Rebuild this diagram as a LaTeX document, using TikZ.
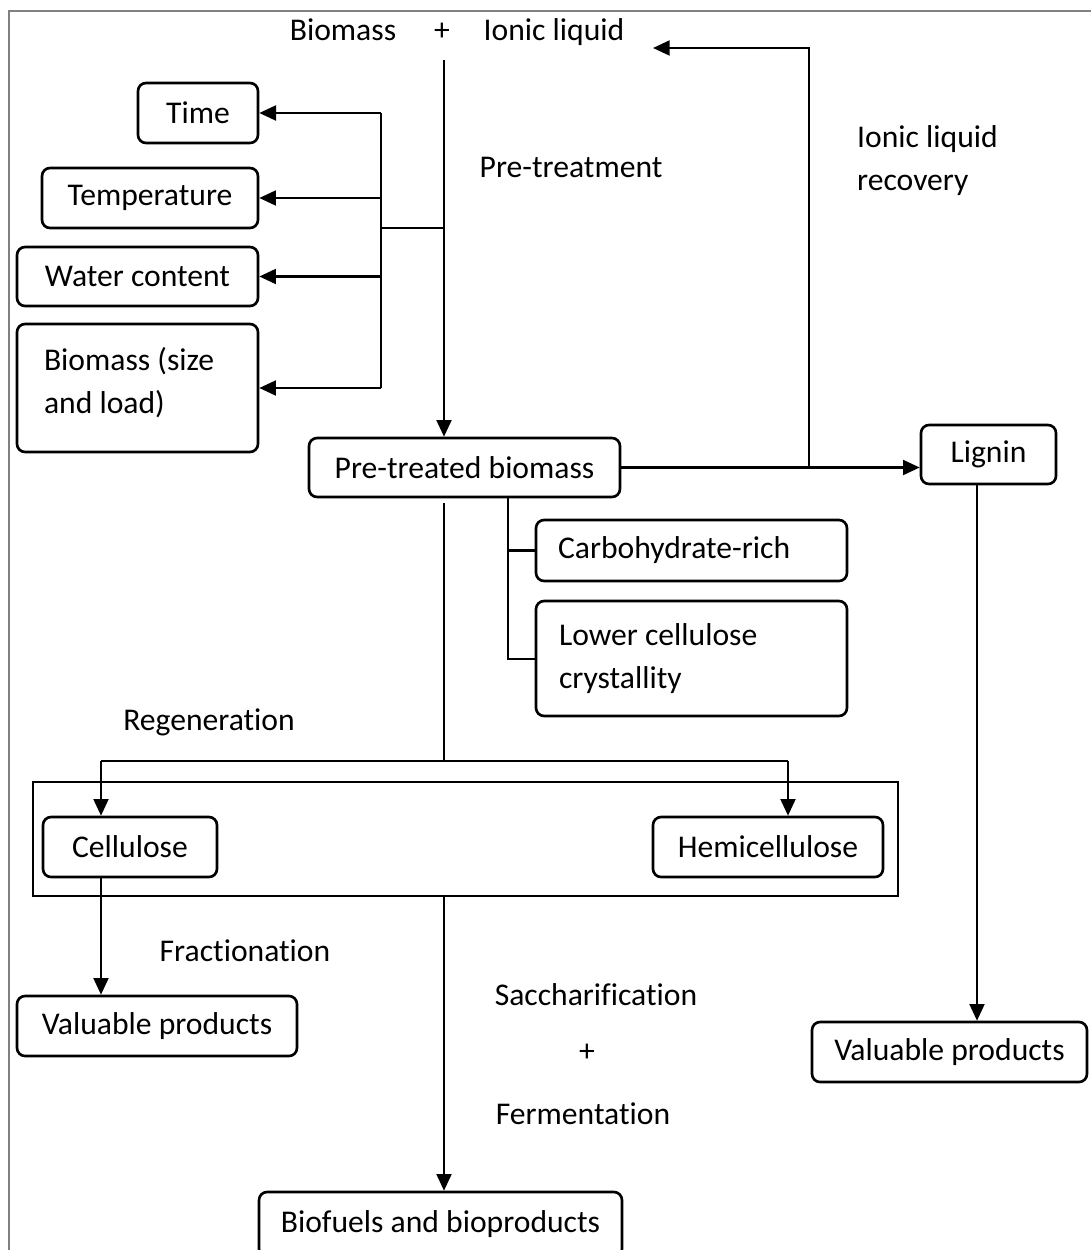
\documentclass[tikz,border=0pt]{standalone}
\usepackage{fontspec}
\setmainfont{Carlito}[Ligatures=NoCommon]
\usetikzlibrary{arrows.meta}
\begin{document}
\begin{tikzpicture}[x=0.02cm,y=-0.02cm,
  font=\fontsize{18}{24.5}\selectfont,
  boite/.style={draw,rounded corners=0.16cm,line width=1.5pt,inner sep=0pt},
  trait/.style={line width=1.3pt},
  fleche/.style={line width=1.3pt,-{Triangle[length=9.5pt,width=8.5pt]}}]
  \useasboundingbox (0,0) rectangle (1090,1250);
  \draw[gray,line width=0.8pt] (9,1260) -- (9,11) -- (1100,11);
  \pgfmathsetmacro{\axe}{444}
  \pgfmathsetmacro{\tronc}{381}
  \pgfmathsetmacro{\retour}{809}
  % entree
  \node[anchor=base] (biomasse) at (343,41) {Biomass};
  \node[anchor=base] (plus) at (442,41) {+};
  \node[anchor=base] (liquide) at (554,41) {Ionic liquid};
  \node (pretraitement) at (571,167) {Pre-treatment};
  \node[align=flush left,anchor=west] (recuperation) at (851,160.5) {Ionic liquid\\recovery};
  % parametres
  \node[boite,minimum width=2.4cm,minimum height=1.2cm] (temps) at (198,113) {Time};
  \node[boite,minimum width=4.32cm,minimum height=1.2cm] (temperature) at (150,198) {Temperature};
  \node[boite,minimum width=4.82cm,minimum height=1.18cm] (eau) at (137.5,276.5) {Water content};
  \node[boite,minimum height=2.56cm,text width=3.74cm,inner xsep=0.54cm,align=flush left] (taille) at (137.5,388) {Biomass (size\\and load)\vspace{0.2cm}};
  % biomasse pretraitee
  \node[boite,minimum width=6.22cm,minimum height=1.18cm] (pretraite) at (464.5,467.5) {Pre-treated biomass};
  \node[boite,minimum width=2.7cm,minimum height=1.18cm] (lignine) at (988.5,454.5) {Lignin};
  \node[boite,minimum height=1.22cm,text width=5.34cm,inner xsep=0.44cm,align=flush left] (glucides) at (691.5,550.5) {Carbohydrate-rich};
  \node[boite,minimum height=2.3cm,text width=5.3cm,inner xsep=0.46cm,align=flush left] (cristal) at (691.5,658.5) {Lower cellulose\\crystallity};
  % regeneration
  \node (regeneration) at (209,722) {Regeneration};
  \node[draw,line width=1.5pt,minimum width=17.3cm,minimum height=2.28cm,inner sep=0pt] (groupe) at (465.5,839) {};
  \node[boite,minimum width=3.48cm,minimum height=1.2cm] (cellulose) at (130,847) {Cellulose};
  \node[boite,minimum width=4.6cm,minimum height=1.2cm] (hemicellulose) at (768,847) {Hemicellulose};
  % produits
  \node (fractionnement) at (245,951) {Fractionation};
  \node[boite,minimum width=5.6cm,minimum height=1.2cm] (produits) at (157,1026) {Valuable products};
  \node (saccharification) at (596,995) {Saccharification};
  \node (plusb) at (587,1053) {+};
  \node (fermentation) at (583,1114) {Fermentation};
  \node[boite,minimum width=5.5cm,minimum height=1.2cm] (produitsb) at (949.5,1052) {Valuable products};
  \node[boite,minimum width=7.26cm,minimum height=1.3cm] (biocarburants) at (440.5,1224.5) {Biofuels and bioproducts};
  % fleches
  \coordinate (depart) at (\axe,60);
  \coordinate (noeud) at (\tronc,228);
  \coordinate (fin) at (653,48);
  \coordinate (coin) at (\retour,48);
  \coordinate (cote) at (508,659);
  \coordinate (reprise) at (\axe,503);
  \coordinate (partage) at (\axe,761);
  \coordinate (gauche) at (101,761);
  \coordinate (droite) at (788,761);
  \coordinate (voie) at (977,484);
  \draw[fleche] (depart) -- (depart |- pretraite.north);
  \draw[trait] (depart |- noeud) -- (noeud);
  \draw[trait] (temps.east -| noeud) -- (taille.east -| noeud);
  \foreach \n in {temps,temperature,eau,taille} \draw[fleche] (\n.east -| noeud) -- (\n.east);
  \draw[fleche] (pretraite.east) -- (pretraite.east -| lignine.west);
  \draw[fleche] (pretraite.east -| coin) -- (coin) -- (fin);
  \draw[trait] (cote |- pretraite.south) -- (cote) -- (cote -| cristal.west);
  \draw[trait] (cote |- glucides.west) -- (glucides.west);
  \draw[trait] (reprise) -- (partage);
  \draw[trait] (gauche) -- (droite);
  \draw[fleche] (gauche) -- (gauche |- cellulose.north);
  \draw[fleche] (droite) -- (droite |- hemicellulose.north);
  \draw[fleche] (gauche |- cellulose.south) -- (gauche |- produits.north);
  \draw[fleche] (partage |- groupe.south) -- (partage |- biocarburants.north);
  \draw[fleche] (voie) -- (voie |- produitsb.north);
\end{tikzpicture}
\end{document}
